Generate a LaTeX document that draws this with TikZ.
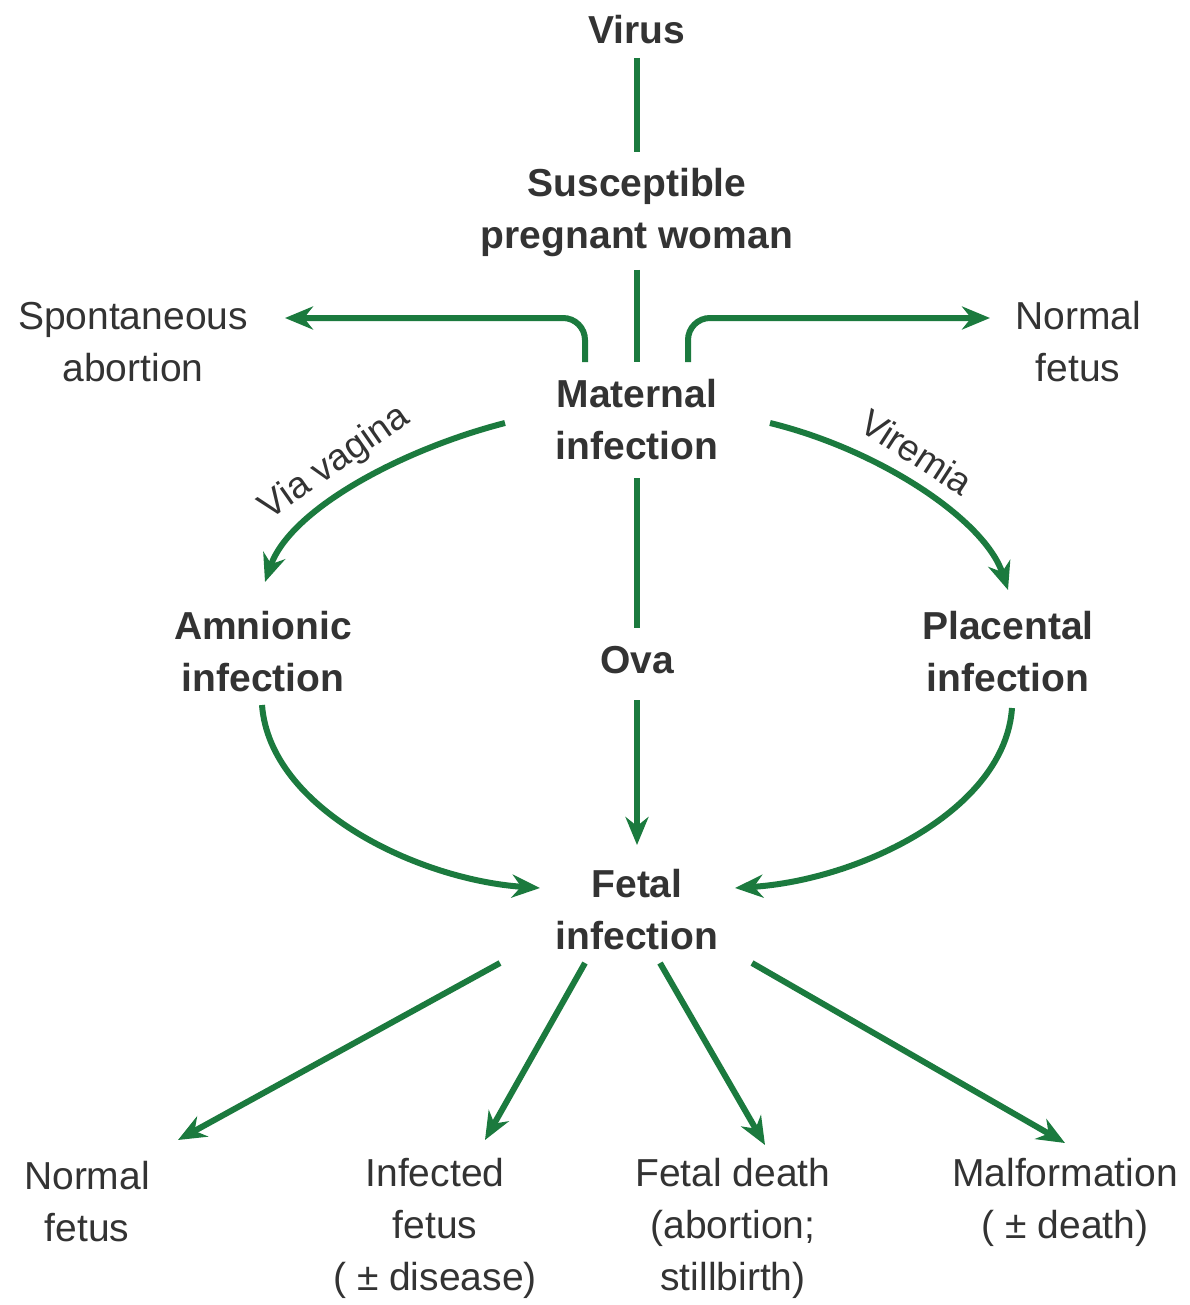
\documentclass[tikz,border=0pt]{standalone}
\usepackage{fontspec}
\setmainfont{Liberation Sans}
\usetikzlibrary{arrows.meta,calc}
\definecolor{grn}{HTML}{1B7A3E}
\definecolor{txt}{HTML}{333333}
\tikzset{
  lbl/.style={align=center,inner sep=0pt,text=txt,font=\fontsize{39}{52}\selectfont},
  blbl/.style={lbl,font=\fontsize{39}{52}\selectfont\bfseries},
  ln/.style={draw=grn,line width=6pt},
  arr/.style={ln,-{Stealth[length=28pt,width=23pt]}},
  slab/.style={inner sep=0pt,text=txt,font=\fontsize{37}{44}\selectfont}
}
\begin{document}
\begin{tikzpicture}[x=1pt,y=-1pt]
\useasboundingbox[fill=white] (0,0) rectangle (1189,1305);
\node[blbl] (virus) at (637,30) {Virus};
\node[blbl] (sus) at (637,213) {Susceptible\\pregnant woman};
\node[lbl] (spont) at (133,342) {Spontaneous\\abortion};
\node[lbl] (nfr) at (1078,342) {Normal\\fetus};
\node[blbl] (mat) at (637,420) {Maternal\\infection};
\node[blbl] (amn) at (263,652) {Amnionic\\infection};
\node[blbl] (ova) at (637,660) {Ova};
\node[blbl] (plac) at (1008,652) {Placental\\infection};
\node[blbl] (fetal) at (637,910) {Fetal\\infection};
\node[lbl] (nfl) at (87,1202) {Normal\\fetus};
\node[lbl] (inf) at (435,1228) {Infected\\fetus\\( ± disease)};
\node[lbl] (death) at (733,1228) {Fetal death\\(abortion;\\stillbirth)};
\node[lbl] (mal) at (1065,1202) {Malformation\\( ± death)};
\node[slab,rotate=35] (vv) at (335,463) {Via vagina};
\node[slab,rotate=-33] (vir) at (917,452) {Viremia};

\draw[ln] ($(virus)+(0,28)$) -- ($(sus)+(0,-61)$);
\draw[ln] ($(sus)+(0,57)$) -- ($(mat)+(0,-58)$);
\draw[arr,rounded corners=22pt] ($(mat)+(-52,-58)$) |- ($(spont)+(152,-24)$);
\draw[arr,rounded corners=22pt] ($(mat)+(51,-58)$) |- ($(nfr)+(-88,-24)$);
\draw[arr] ($(mat)+(-132,3)$) .. controls (400,450) and (290,510) .. ($(amn)+(2,-70)$);
\draw[arr] ($(mat)+(133,3)$) .. controls (880,450) and (985,520) .. ($(plac)+(0,-62)$);
\draw[ln] ($(mat)+(0,58)$) -- ($(ova)+(0,-32)$);
\draw[arr] ($(ova)+(0,40)$) -- ($(fetal)+(0,-65)$);
\draw[arr] ($(amn)+(-1,53)$) .. controls (270,810) and (420,880) .. ($(fetal)+(-97,-22)$);
\draw[arr] ($(plac)+(4,56)$) .. controls (1005,810) and (860,880) .. ($(fetal)+(98,-22)$);
\draw[arr] ($(fetal)+(-137,53)$) -- ($(nfl)+(91,-62)$);
\draw[arr] ($(fetal)+(-52,53)$) -- ($(inf)+(50,-88)$);
\draw[arr] ($(fetal)+(23,53)$) -- ($(death)+(32,-83)$);
\draw[arr] ($(fetal)+(115,53)$) -- ($(mal)+(0,-59)$);
\end{tikzpicture}
\end{document}
